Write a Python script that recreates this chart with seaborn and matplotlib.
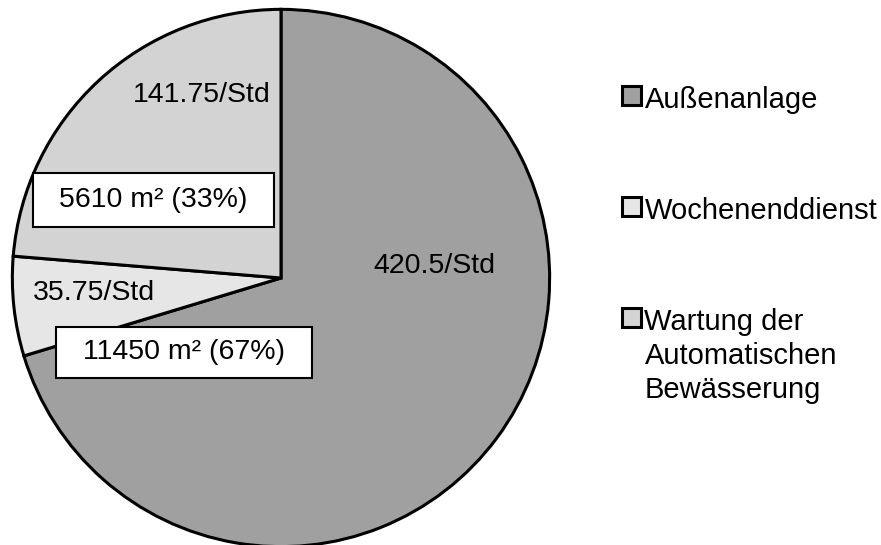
import matplotlib
matplotlib.use("Agg")
import matplotlib.pyplot as plt
import seaborn as sns
from matplotlib.patches import Rectangle

# data
categories = ["Außenanlage", "Wochenenddienst", "Wartung der\nAutomatischen\nBewässerung"]
hours = [420.5, 35.75, 141.75]
hour_labels = ["420.5/Std", "35.75/Std", "141.75/Std"]
area_labels = ["5610 m² (33%)", "11450 m² (67%)"]
colors = ["#a0a0a0", "#e6e6e6", "#d3d3d3"]

sns.set_theme(style="white")
plt.rcParams["font.family"] = ["Liberation Sans", "DejaVu Sans"]
plt.rcParams["text.color"] = "black"

fig = plt.figure(figsize=(8.81, 5.45), dpi=100)
# pie centre ~ (281, 277) px, radius ~270 px
ax = fig.add_axes([11 / 881, (545 - 278 - 270) / 545, 540 / 881, 540 / 545])

wedges, _ = ax.pie(hours, colors=colors, startangle=90, counterclock=False,
                   radius=1.0, wedgeprops=dict(edgecolor="black", linewidth=2.2))
ax.set_xlim(-1.005, 1.005)
ax.set_ylim(-1.005, 1.005)
ax.set_aspect("equal")

# value labels inside the slices
label_pos = [(0.570, 0.044), (-0.696, -0.056), (-0.296, 0.681)]
for (x, y), txt in zip(label_pos, hour_labels):
    ax.text(x, y, txt, ha="center", va="center", fontsize=20.5, color="black")

# boxed area labels
box_pos = [(-0.474, 0.289, 242 / 270, 54 / 270), (-0.361, -0.276, 257 / 270, 51 / 270)]
for (x, y, w, h), txt in zip(box_pos, area_labels):
    ax.add_patch(Rectangle((x - w / 2, y - h / 2), w, h, facecolor="white",
                           edgecolor="black", linewidth=1.5, zorder=3))
    ax.text(x, y, txt, ha="center", va="center", fontsize=20.5, color="black", zorder=4)

leg = fig.legend(wedges, categories, loc="upper left", bbox_to_anchor=(622 / 881, 1 - 86 / 545),
                 frameon=False, fontsize=21, handlelength=0.65, handleheight=0.65,
                 handletextpad=0.12, labelspacing=2.84, borderaxespad=0, borderpad=0)
for t in leg.get_texts():
    t.set_linespacing(1.28)
# put the square next to the first line of multi-line labels
for col in leg._legend_handle_box.get_children():
    for row in col.get_children():
        row.align = "top"

fig.savefig("out.png", dpi=100)
